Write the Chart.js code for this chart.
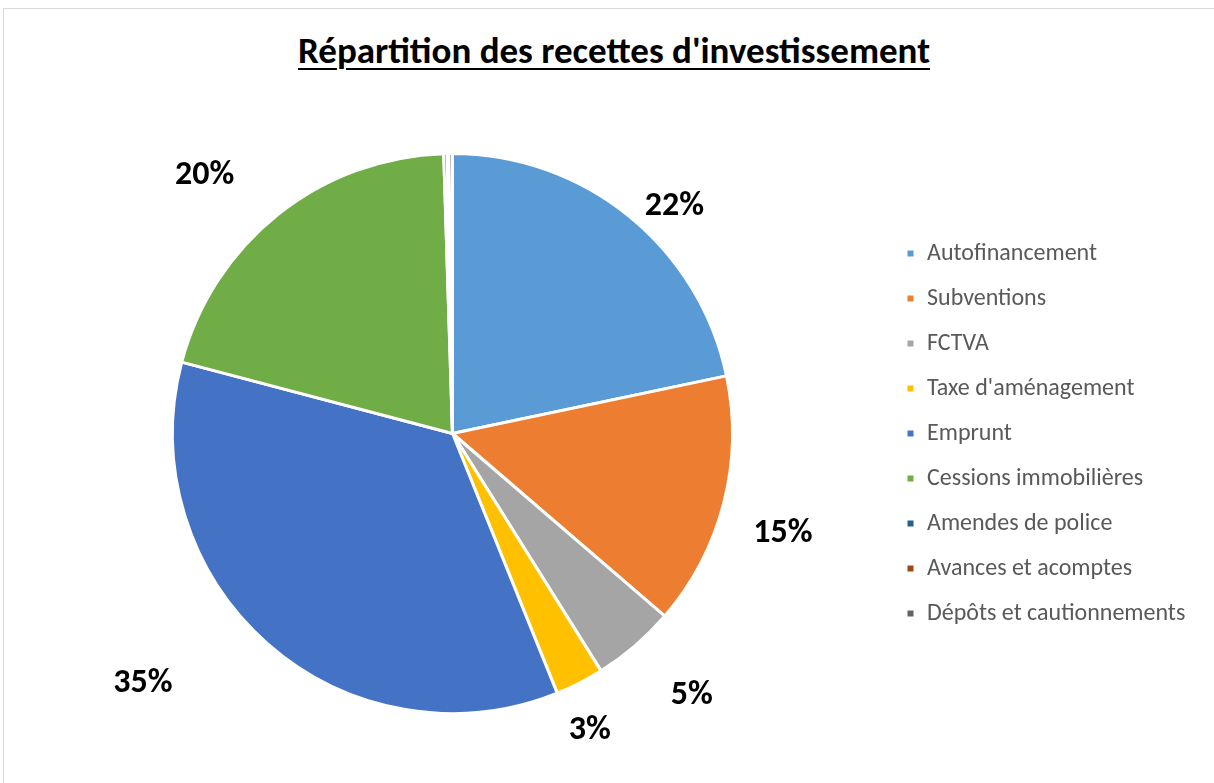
<!DOCTYPE html>
<html lang="fr">
<head>
<meta charset="utf-8">
<title>Répartition des recettes d'investissement</title>
<script src="https://cdn.jsdelivr.net/npm/chart.js@4.4.1/dist/chart.umd.min.js"></script>
<style>
    html, body { margin: 0; padding: 0; background: #ffffff; }
    body { width: 1214px; height: 783px; position: relative; overflow: hidden; }
    .frame {
        position: absolute; left: 3px; top: 8px; width: 1300px; height: 900px;
        border: 1px solid #d9d9d9; box-sizing: border-box;
    }
    .title {
        position: absolute; left: 0; top: 29px; width: 1228px; text-align: center;
        font-family: Calibri, Carlito, Lato, sans-serif; font-weight: bold; font-size: 37px;
        line-height: 1.2; color: #000000; text-decoration: underline;
        text-decoration-thickness: 2px; text-underline-offset: 5px;
    }
    canvas { position: absolute; left: 0; top: 0; }
</style>
</head>
<body>
<div class="frame"></div>
<div class="title">Répartition des recettes d'investissement</div>
<canvas id="pieChart" width="1214" height="783"></canvas>
<script>
const categories = [
    "Autofinancement",
    "Subventions",
    "FCTVA",
    "Taxe d'aménagement",
    "Emprunt",
    "Cessions immobilières",
    "Amendes de police",
    "Avances et acomptes",
    "Dépôts et cautionnements"
];
const shares = [21.7, 14.6, 4.8, 2.8, 35.2, 20.4, 0.2, 0.1, 0.2]; // % of total
const sliceColors = ["#5B9BD5", "#ED7D31", "#A5A5A5", "#FFC000", "#4472C4", "#70AD47", "#255E91", "#9E480E", "#636363"];

const fontFamily = "Calibri, Carlito, Lato, sans-serif";
const legendSize = 24;
const legendPad = 21;
const boxSize = 9;

// where the outside labels sit: [angle shift in degrees from slice middle, radius factor]
const labelPlacement = [[5, 1.14], [2, 1.23], [-2, 1.26], [2, 1.16], [10, 1.415], [-5, 1.285]];

// work out right padding so the legend starts where it should
const measure = document.createElement("canvas").getContext("2d");
measure.font = legendSize + "px " + fontFamily;
const maxText = Math.max(...categories.map(c => measure.measureText(c).width));
const legendWidth = 2 * legendPad + boxSize + legendSize / 2 + maxText;
const legendLeft = 874;
const padRight = Math.max(0, 1214 - legendLeft - legendWidth);

const outsideLabels = {
    id: "outsideLabels",
    afterDatasetsDraw(chart) {
        const ctx = chart.ctx;
        const arcs = chart.getDatasetMeta(0).data;
        ctx.save();
        ctx.font = "bold 34px " + fontFamily;
        ctx.fillStyle = "#000000";
        ctx.textAlign = "center";
        ctx.textBaseline = "middle";
        arcs.forEach((arc, i) => {
            const value = shares[i];
            if (value < 1) return;
            const place = labelPlacement[i];
            const mid = (arc.startAngle + arc.endAngle) / 2 + place[0] * Math.PI / 180;
            const r = arc.outerRadius * place[1];
            // +2.5 because the digits sit a bit high with middle baseline
            ctx.fillText(Math.round(value) + "%", arc.x + Math.cos(mid) * r, arc.y + Math.sin(mid) * r + 2.5);
        });
        ctx.restore();
    }
};

new Chart(document.getElementById("pieChart"), {
    type: "pie",
    data: {
        labels: categories,
        datasets: [{
            data: shares,
            backgroundColor: sliceColors,
            borderColor: "#ffffff",
            borderWidth: 3,
            hoverBorderWidth: 3,
            hoverOffset: 0
        }]
    },
    options: {
        responsive: false,
        animation: false,
        devicePixelRatio: 1,
        layout: { padding: { left: 20, right: padRight, top: 152, bottom: 68 } },
        plugins: {
            title: { display: false },
            tooltip: { enabled: false },
            legend: {
                display: true,
                position: "right",
                labels: {
                    color: "#595959",
                    boxWidth: boxSize,
                    boxHeight: boxSize,
                    padding: legendPad,
                    font: { family: fontFamily, size: legendSize }
                }
            }
        }
    },
    plugins: [outsideLabels]
});
</script>
</body>
</html>
